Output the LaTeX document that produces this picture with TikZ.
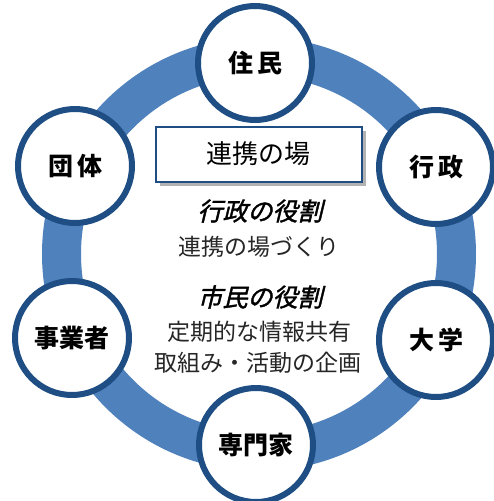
\documentclass[tikz,border=0pt]{standalone}
\usepackage{fontspec}
\setmainfont{Noto Sans CJK JP}
\newfontfamily\jpsl{Noto Sans CJK JP}[FakeSlant=0.24,FakeBold=1.6]
\usetikzlibrary{shadows}
\definecolor{ringblue}{HTML}{4F81BD}
\definecolor{navy}{HTML}{1F4E85}
\tikzset{
  bubble/.style={circle, draw=navy, line width=6pt, fill=white, minimum size=114pt, inner sep=0pt, font=\fontsize{25}{28}\selectfont\bfseries},
  placebox/.style={draw=navy, line width=2pt, fill=white, minimum width=206pt, minimum height=55pt, inner sep=0pt,
     font=\fontsize{26}{30}\selectfont,
     drop shadow={shadow xshift=4pt, shadow yshift=-4pt, fill=black, opacity=0.3}},
  role/.style={font=\fontsize{25}{28}\selectfont\jpsl, inner sep=0pt},
  body/.style={font=\fontsize{23}{27}\selectfont, inner sep=0pt, text=black!85}
}
\begin{document}
\begin{tikzpicture}[x=1pt, y=-1pt]
\useasboundingbox (0,0) rectangle (493,501);
\fill[white] (0,0) rectangle (493,501);
\coordinate (c) at (259,254);
\draw[ringblue, line width=39pt] (c) circle (197.5pt);
\node[bubble] (jumin) at (255,63) {住\hspace{4pt}民};
\node[bubble] (gyosei) at (436,167) {行\hspace{4pt}政};
\node[bubble] (daigaku) at (436,340) {大\hspace{4pt}学};
\node[bubble] (senmonka) at (256,445) {専門家};
\node[bubble] (jigyosha) at (72,338) {事業者};
\node[bubble] (dantai) at (75,166) {団\hspace{4pt}体};
\node[placebox] (ba) at (258.5,154) {連携の場};
\node[role] (r1) at (260,211) {行政の役割};
\node[body] (b1) at (259,247) {連携の場づくり};
\node[role] (r2) at (260,297) {市民の役割};
\node[body] (b2) at (259,332) {定期的な情報共有};
\node[body] (b3) at (258,363) {取組み・活動の企画};
\end{tikzpicture}
\end{document}
